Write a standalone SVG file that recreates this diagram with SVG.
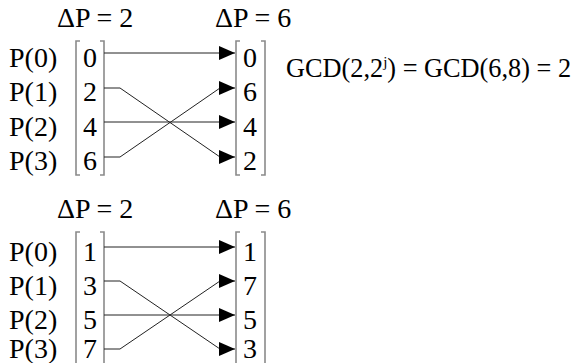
<svg xmlns="http://www.w3.org/2000/svg" width="581" height="363" viewBox="0 0 581 363" font-family="'Liberation Serif', 'Times New Roman', serif">
<defs>
<style>
text{font-family:"Liberation Serif","Times New Roman",serif;font-size:28px;fill:#000}
text.g{font-size:26.3px}
.d{text-anchor:middle}
.br{fill:none;stroke:#8a8a8a;stroke-width:1.6}
.c{fill:none;stroke:#222;stroke-width:1}
</style>
<marker id="ah" markerWidth="16" markerHeight="14" refX="16" refY="7" orient="auto" markerUnits="userSpaceOnUse">
<path d="M0,0 L16,7 L0,14 Z" fill="#000"/>
</marker>
</defs>
<rect width="581" height="363" fill="#fff"/>
<g id="top">
<text x="57" y="27">ΔP = 2</text>
<text x="215" y="27">ΔP = 6</text>
<g id="labels-top">
<text x="9" y="67">P(0)</text>
<text x="9" y="101">P(1)</text>
<text x="9" y="136">P(2)</text>
<text x="9" y="170">P(3)</text>
</g>
<g id="src-top">
<path class="br" d="M80,41 H76 V175 H80 M100,41 H104 V175 H100"/>
<text class="d" x="90" y="67">0</text>
<text class="d" x="90" y="101">2</text>
<text class="d" x="90" y="136">4</text>
<text class="d" x="90" y="170">6</text>
</g>
<g id="dst-top">
<path class="br" d="M240,41 H236 V175 H240 M261,41 H265 V175 H261"/>
<text class="d" x="250" y="67">0</text>
<text class="d" x="250" y="101">6</text>
<text class="d" x="250" y="136">4</text>
<text class="d" x="250" y="170">2</text>
</g>
<g id="gcd">
<text class="g" x="286" y="77">GCD(2,2<tspan font-size="15" dy="-10">j</tspan><tspan dy="10">) = GCD(6,8) = 2</tspan></text>
</g>
<g id="connectors-top">
<path class="c" d="M104,53 H235" marker-end="url(#ah)"/>
<path class="c" d="M104,88 H120 L220,157 H235" marker-end="url(#ah)"/>
<path class="c" d="M104,122 H235" marker-end="url(#ah)"/>
<path class="c" d="M104,157 H120 L220,88 H235" marker-end="url(#ah)"/>
</g>
</g>
<g id="bottom">
<text x="57" y="218">ΔP = 2</text>
<text x="215" y="218">ΔP = 6</text>
<g id="labels-bottom">
<text x="9" y="261">P(0)</text>
<text x="9" y="295">P(1)</text>
<text x="9" y="329">P(2)</text>
<text x="9" y="358">P(3)</text>
</g>
<g id="src-bottom">
<path class="br" d="M80,232 H76 V370 M100,232 H104 V370"/>
<text class="d" x="90" y="261">1</text>
<text class="d" x="90" y="295">3</text>
<text class="d" x="90" y="329">5</text>
<text class="d" x="90" y="358">7</text>
</g>
<g id="dst-bottom">
<path class="br" d="M240,232 H236 V370 M261,232 H265 V370"/>
<text class="d" x="250" y="261">1</text>
<text class="d" x="250" y="295">7</text>
<text class="d" x="250" y="329">5</text>
<text class="d" x="250" y="358">3</text>
</g>
<g id="connectors-bottom">
<path class="c" d="M104,247 H235" marker-end="url(#ah)"/>
<path class="c" d="M104,281 H120 L220,349 H235" marker-end="url(#ah)"/>
<path class="c" d="M104,315 H235" marker-end="url(#ah)"/>
<path class="c" d="M104,349 H120 L220,281 H235" marker-end="url(#ah)"/>
</g>
</g>
</svg>
